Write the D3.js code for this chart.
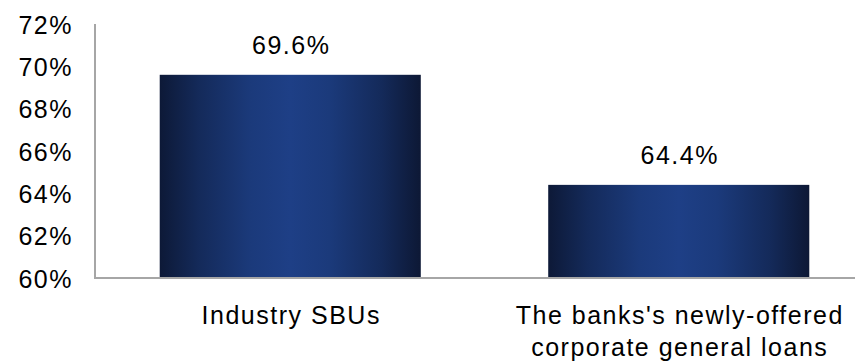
<!DOCTYPE html>
<html>
<head>
<meta charset="utf-8">
<script src="https://cdn.jsdelivr.net/npm/d3@7"></script>
<style>
  html, body { margin: 0; padding: 0; background: #ffffff; }
  svg { display: block; font-family: "Liberation Sans", Arial, sans-serif; }
  text { fill: #000000; font-size: 25px; letter-spacing: 1.5px; }
</style>
</head>
<body>
<svg id="chart" width="855" height="364"></svg>
<script>
// Share of loans, by category (percent)
const categories = ["Industry SBUs", "The banks's newly-offered corporate general loans"];
const categoryLines = [["Industry SBUs"], ["The banks's newly-offered", "corporate general loans"]];
const values = [69.6, 64.4];
const yTicks = [60, 62, 64, 66, 68, 70, 72];

const svg = d3.select("#chart");

const plot = { left: 95, right: 873, top: 24, bottom: 278 };

const x = d3.scaleBand()
  .domain(categories)
  .range([plot.left + 1, plot.right])
  .paddingInner(0.328)
  .paddingOuter(0.164);

const y = d3.scaleLinear()
  .domain([60, 72])
  .range([plot.bottom, plot.top]);

// Horizontal shading for the bars: dark edges, lighter blue centre
const defs = svg.append("defs");
const grad = defs.append("linearGradient")
  .attr("id", "barFill")
  .attr("x1", "0%").attr("x2", "100%")
  .attr("y1", "0%").attr("y2", "0%");
[
  ["0%", "#0d1937"],
  ["15%", "#142a5a"],
  ["35%", "#1b3a7b"],
  ["50%", "#1e3f86"],
  ["65%", "#1b3a7b"],
  ["85%", "#142a5a"],
  ["100%", "#0d1835"]
].forEach(([o, c]) => grad.append("stop").attr("offset", o).attr("stop-color", c));

// Bars
svg.append("g")
  .selectAll("rect")
  .data(values)
  .join("rect")
  .attr("x", (d, i) => x(categories[i]))
  .attr("width", x.bandwidth())
  .attr("y", d => y(d))
  .attr("height", d => y(60) - y(d))
  .attr("fill", "url(#barFill)");

// Value labels
svg.append("g")
  .selectAll("text")
  .data(values)
  .join("text")
  .attr("x", (d, i) => x(categories[i]) + x.bandwidth() / 2 + 1)
  .attr("y", d => y(d) - 21)
  .attr("text-anchor", "middle")
  .text(d => d.toFixed(1) + "%");

// Y axis: labels only, with a plain grey spine
const yAxis = d3.axisLeft(y)
  .tickValues(yTicks)
  .tickFormat(d => d + "%")
  .tickSize(0)
  .tickPadding(22);

const yg = svg.append("g")
  .attr("transform", `translate(${plot.left},0)`)
  .call(yAxis);
yg.select(".domain").remove();
yg.selectAll("text")
  .attr("font-family", null)
  .attr("font-size", null)
  .attr("fill", "#000")
  .attr("dy", "0.36em");

svg.append("line")
  .attr("x1", plot.left).attr("x2", plot.left)
  .attr("y1", plot.top).attr("y2", plot.bottom)
  .attr("stroke", "#a6a6a6")
  .attr("stroke-width", 2);

// X axis baseline
svg.append("line")
  .attr("x1", plot.left - 1).attr("x2", plot.right)
  .attr("y1", plot.bottom).attr("y2", plot.bottom)
  .attr("stroke", "#a6a6a6")
  .attr("stroke-width", 2);

// Category labels (wrapped)
const cat = svg.append("g")
  .selectAll("text")
  .data(categories)
  .join("text")
  .attr("text-anchor", "middle")
  .attr("x", d => x(d) + x.bandwidth() / 2 + 1)
  .attr("y", 324);
cat.each(function (d, i) {
  const t = d3.select(this);
  categoryLines[i].forEach((line, j) => {
    t.append("tspan")
      .attr("x", x(d) + x.bandwidth() / 2 + 1)
      .attr("dy", j === 0 ? 0 : 32)
      .text(line);
  });
});
</script>
</body>
</html>
